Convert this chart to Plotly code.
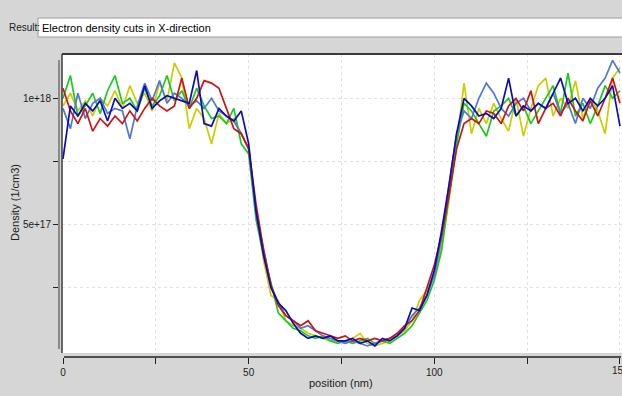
import numpy as np
import plotly.graph_objects as go

# position (nm), sampled every 2 nm
position_nm = list(range(0, 151, 2))

# electron density in units of 1e18 1/cm3, one list per cut
yellow_cut = [0.97, 1.02, 0.95, 0.99, 0.93, 1.00, 0.97, 1.03, 0.96, 1.05,
              0.98, 1.02, 0.95, 1.06, 0.99, 1.14, 1.08, 0.88, 0.96, 0.92,
              0.82, 0.94, 0.90, 0.92, 0.86, 0.80, 0.55, 0.36, 0.22, 0.20,
              0.12, 0.10, 0.09, 0.07, 0.06, 0.05, 0.04, 0.04, 0.03, 0.05,
              0.07, 0.03, 0.02, 0.03, 0.04, 0.06, 0.08, 0.12, 0.20, 0.24,
              0.30, 0.42, 0.60, 0.82, 1.06, 0.86, 0.96, 0.90, 0.98, 0.92,
              0.87, 1.00, 0.85, 0.96, 1.05, 1.08, 0.93, 1.00, 0.96, 1.07,
              0.92, 1.00, 0.95, 0.86, 1.08, 1.12]
green_cut = [1.00, 1.09, 0.93, 0.97, 1.02, 0.94, 1.03, 1.09, 0.98, 1.00,
             0.95, 1.04, 0.97, 1.01, 1.09, 0.99, 1.03, 0.96, 1.04, 0.97,
             0.92, 0.93, 0.90, 0.96, 0.82, 0.78, 0.52, 0.38, 0.27, 0.15,
             0.12, 0.09, 0.08, 0.06, 0.05, 0.06, 0.04, 0.03, 0.04, 0.03,
             0.04, 0.05, 0.03, 0.04, 0.03, 0.05, 0.07, 0.10, 0.15, 0.20,
             0.28, 0.40, 0.62, 0.82, 0.98, 0.95, 0.90, 0.85, 0.95, 0.97,
             1.00, 0.93, 0.97, 0.90, 0.95, 1.00, 1.05, 0.94, 1.10, 0.93,
             0.98, 0.90, 0.97, 1.05, 1.00, 1.03]
lightblue_cut = [0.96, 0.88, 1.02, 0.92, 0.98, 1.00, 0.94, 0.96, 0.95, 0.84,
                 0.97, 1.06, 0.99, 1.07, 0.98, 1.02, 1.00, 0.97, 0.99, 0.96,
                 1.00, 0.95, 0.93, 0.91, 0.86, 0.80, 0.55, 0.40, 0.26, 0.19,
                 0.14, 0.12, 0.09, 0.10, 0.08, 0.06, 0.05, 0.04, 0.03, 0.04,
                 0.03, 0.02, 0.03, 0.04, 0.05, 0.06, 0.09, 0.14, 0.17, 0.22,
                 0.30, 0.45, 0.66, 0.86, 0.95, 0.92, 1.00, 1.06, 1.02, 0.96,
                 0.93, 0.98, 1.00, 0.95, 0.98, 0.96, 1.02, 0.94, 0.98, 0.90,
                 1.00, 0.96, 1.04, 1.08, 1.15, 1.10]
red_cut = [1.04, 0.95, 0.90, 0.96, 0.87, 0.92, 0.89, 0.93, 0.90, 0.95,
           0.91, 0.96, 1.00, 0.97, 0.95, 0.97, 1.08, 0.96, 1.00, 1.07,
           1.06, 1.04, 0.96, 0.88, 0.86, 0.80, 0.58, 0.40, 0.26, 0.18,
           0.14, 0.12, 0.10, 0.12, 0.08, 0.07, 0.06, 0.05, 0.06, 0.04,
           0.05, 0.04, 0.05, 0.04, 0.05, 0.07, 0.10, 0.12, 0.16, 0.25,
           0.34, 0.46, 0.62, 0.80, 0.90, 0.92, 0.90, 0.95, 0.94, 0.90,
           0.97, 1.00, 0.95, 1.03, 0.90, 0.96, 0.98, 0.93, 1.00, 0.95,
           0.91, 0.99, 0.93, 1.00, 1.08, 0.98]
darkblue_cut = [0.76, 0.97, 0.93, 0.98, 0.95, 0.99, 0.91, 1.00, 0.96, 0.98,
                0.95, 1.05, 0.96, 0.99, 1.01, 1.00, 0.99, 0.98, 1.11, 0.90,
                0.89, 0.96, 0.93, 0.91, 0.95, 0.82, 0.55, 0.38, 0.25, 0.19,
                0.16, 0.11, 0.07, 0.05, 0.06, 0.05, 0.06, 0.04, 0.04, 0.05,
                0.03, 0.04, 0.02, 0.05, 0.04, 0.06, 0.09, 0.17, 0.16, 0.22,
                0.32, 0.48, 0.66, 0.86, 1.00, 0.97, 0.93, 0.94, 0.92, 0.96,
                1.08, 0.93, 0.97, 0.95, 0.98, 0.96, 1.02, 1.08, 0.98, 1.00,
                0.95, 1.00, 0.97, 1.00, 1.05, 0.89]

series = [
    (yellow_cut, "#cccc00"),
    (green_cut, "#1ec81e"),
    (lightblue_cut, "#5078d2"),
    (red_cut, "#cc1414"),
    (darkblue_cut, "#0c0cb4"),
]

x_tickvals = [0, 25, 50, 75, 100, 125, 150]
x_ticktext = ["0", "", "50", "", "100", "", ""]
x_edge_label = "150"
y_tickvals = [0.25e18, 0.5e18, 0.75e18, 1.0e18]
y_ticktext = ["", "5e+17", "", "1e+18"]

W, H = 622, 396
L, T, B, R = 59, 54, 39, 0
PW, PH = W - L - R, H - T - B


def X(px):
    return (px - L) / PW


def Y(py):
    return (H - B - py) / PH


fig = go.Figure()
for vals, col in series:
    fig.add_trace(go.Scatter(
        x=position_nm, y=[v * 1e18 for v in vals], mode="lines",
        line=dict(color=col, width=1.7), showlegend=False, hoverinfo="skip"))

font = dict(family="Liberation Sans, Arial, sans-serif", size=10, color="#222222")

fig.update_layout(
    width=W, height=H, template="none",
    margin=dict(l=L, r=R, t=T, b=B, pad=0),
    paper_bgcolor="#d6d6d6", plot_bgcolor="#ffffff",
    font=font, showlegend=False,
    xaxis=dict(domain=[X(62), 1], anchor="free", position=0,
               range=[-0.27, 150.54], tickvals=x_tickvals, ticktext=x_ticktext,
               ticks="outside", ticklen=6, tickcolor="#222222", tickwidth=1,
               showline=False, zeroline=False, automargin=False,
               showgrid=True, gridcolor="#e2e2e2", griddash="dot", gridwidth=1),
    yaxis=dict(domain=[Y(353), 1], anchor="free", position=0,
               range=[-0.0079e18, 1.1753e18], tickvals=y_tickvals, ticktext=y_ticktext,
               ticks="outside", ticklen=6, tickcolor="#222222", tickwidth=1,
               showline=False, zeroline=False, automargin=False,
               showgrid=True, gridcolor="#e2e2e2", griddash="dot", gridwidth=1),
)

shapes = [
    # plot frame top & left
    dict(type="line", xref="paper", yref="paper", x0=X(62), x1=X(622), y0=Y(54), y1=Y(54),
         line=dict(color="#3a3a3a", width=2)),
    dict(type="line", xref="paper", yref="paper", x0=X(62), x1=X(62), y0=Y(54), y1=Y(353),
         line=dict(color="#3a3a3a", width=1.5)),
    # y axis line (offset, gray)
    dict(type="line", xref="paper", yref="paper", x0=X(59), x1=X(59), y0=Y(60), y1=Y(349),
         line=dict(color="#8a8a8a", width=2)),
    # x axis line (offset)
    dict(type="line", xref="paper", yref="paper", x0=X(64), x1=X(621), y0=Y(357), y1=Y(357),
         line=dict(color="#222222", width=1.5)),
    # result text box
    dict(type="rect", xref="paper", yref="paper", x0=X(38), x1=X(623), y0=Y(18), y1=Y(37),
         fillcolor="#ffffff", line=dict(color="#9a9a9a", width=1), layer="below"),
]
fig.update_layout(shapes=shapes)

label_font = dict(family="Liberation Sans, Arial, sans-serif", size=11, color="#222222")
fig.add_annotation(x=X(7), y=Y(27.5), xref="paper", yref="paper", text="Result:",
                   showarrow=False, xanchor="left", yanchor="middle",
                   font=dict(family="Liberation Sans, Arial, sans-serif", size=10, color="#222222"))
fig.add_annotation(x=X(40), y=Y(27.5), xref="paper", yref="paper",
                   text="Electron density cuts in X-direction",
                   showarrow=False, xanchor="left", yanchor="middle",
                   font=dict(family="Liberation Sans, Arial, sans-serif", size=11, color="#000000"))
fig.add_annotation(x=X(15), y=Y(202), xref="paper", yref="paper", text="Density (1/cm3)",
                   showarrow=False, textangle=-90, xanchor="center", yanchor="middle",
                   font=label_font)
fig.add_annotation(x=X(341), y=Y(383), xref="paper", yref="paper", text="position (nm)",
                   showarrow=False, xanchor="center", yanchor="middle", font=label_font)
fig.add_annotation(x=X(620), y=Y(371), xref="paper", yref="paper", text=x_edge_label,
                   showarrow=False, xanchor="center", yanchor="middle", font=font)

fig.write_html("out.html")
